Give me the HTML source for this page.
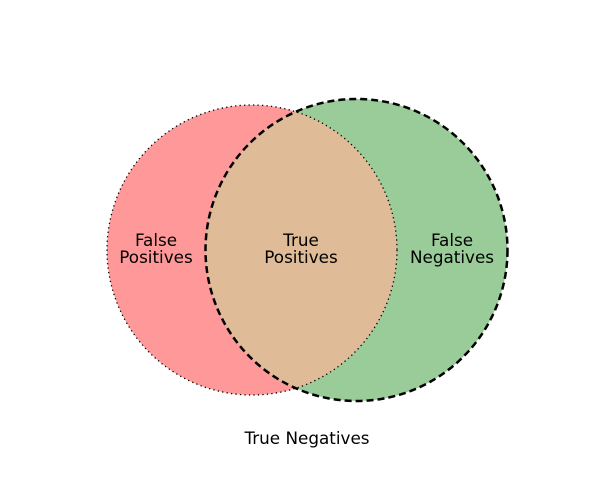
<!DOCTYPE html>
<html><head><meta charset="utf-8"><style>
html,body{margin:0;padding:0;background:#fff;width:600px;height:500px;overflow:hidden}
text{font-family:"DejaVu Sans","Liberation Sans",sans-serif;font-size:16.8px;fill:#000}
</style></head><body>
<svg width="600" height="500" viewBox="0 0 600 500" xmlns="http://www.w3.org/2000/svg">
<defs><clipPath id="cl"><circle cx="252" cy="250" r="145"/></clipPath></defs>
<circle cx="252" cy="250" r="145" fill="#ff9999"/>
<circle cx="356.5" cy="250" r="151" fill="#99cc99"/>
<circle cx="356.5" cy="250" r="151" fill="#dfbb97" clip-path="url(#cl)"/>
<circle cx="252" cy="250" r="145" fill="none" stroke="#000" stroke-width="1.3" stroke-dasharray="1.3 3.2"/>
<circle cx="356.5" cy="250" r="151" fill="none" stroke="#000" stroke-width="2.5" stroke-dasharray="7 4"/>
<g text-anchor="middle">
<text x="156" y="246">False</text><text x="156" y="263">Positives</text>
<text x="301" y="246">True</text><text x="301" y="263">Positives</text>
<text x="452" y="246">False</text><text x="452" y="263">Negatives</text>
<text x="307" y="444">True Negatives</text>
</g>
</svg>
</body></html>
